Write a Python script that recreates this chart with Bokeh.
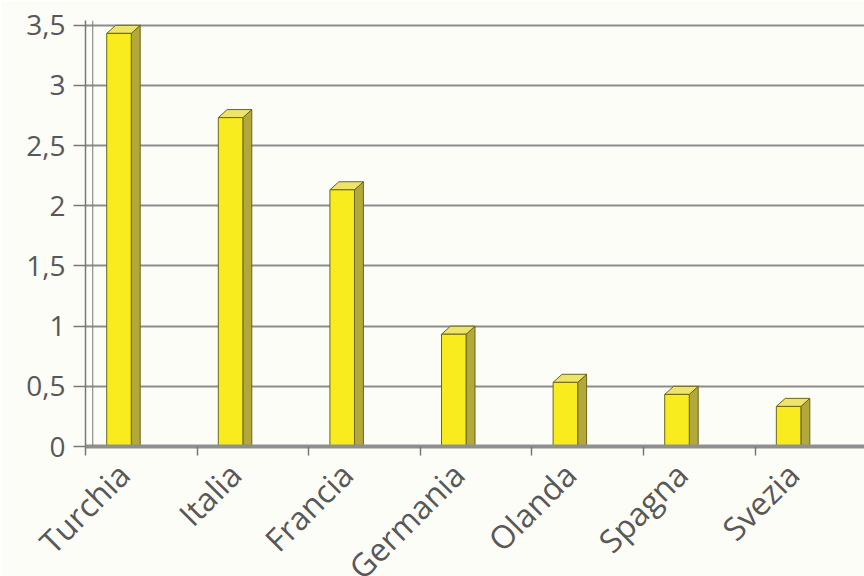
import math
from bokeh.plotting import figure
from bokeh.models import FixedTicker, Range1d, Span
from bokeh.embed import file_html
from bokeh.resources import INLINE

# ---- data ----
categories = ["Turchia", "Italia", "Francia", "Germania", "Olanda", "Spagna", "Svezia"]
values = [3.5, 2.8, 2.2, 1.0, 0.6, 0.5, 0.4]
y_ticks = [0, 0.5, 1, 1.5, 2, 2.5, 3, 3.5]
y_tick_labels = ["0", "0,5", "1", "1,5", "2", "2,5", "3", "3,5"]

# ---- styling constants (3D look) ----
FRONT_L, FRONT_R = 0.19, 0.41   # offset within category slot
DX, DZ = 0.08, 0.067            # depth offsets in data units
LABEL_POS = 0.34                # label anchor within slot
BG = "#fdfdf8"
GRID = "#8c8c8c"
TXT = "#585858"
FONT = "Open Sans"

p = figure(frame_width=779, frame_height=426, output_backend="svg", toolbar_location=None,
           x_range=Range1d(0, 6.98), y_range=Range1d(0, 3.54),
           min_border_left=85, min_border_right=0, min_border_top=20, min_border_bottom=0)
p.background_fill_color = BG
p.border_fill_color = BG
p.outline_line_color = None

idx = list(range(len(categories)))
left = [i + FRONT_L for i in idx]
right = [i + FRONT_R for i in idx]
front_top = [v - DZ for v in values]

side_xs = [[r, r + DX, r + DX, r] for r in right]
side_ys = [[0, 0, v, v - DZ] for v in values]
top_xs = [[l, l + DX, r + DX, r] for l, r in zip(left, right)]
top_ys = [[v - DZ, v, v, v - DZ] for v in values]

# back wall corner line
p.add_layout(Span(location=0.065, dimension="height", line_color="#777777", line_width=1))

p.patches(side_xs, side_ys, fill_color="#b3a83a", line_color="#6a6618", line_width=1)
p.patches(top_xs, top_ys, fill_color="#efe46a", line_color="#6a6618", line_width=1)
p.quad(left=left, right=right, bottom=0, top=front_top,
       fill_color="#f8ec1e", line_color="#6a6618", line_width=1)

# y axis
p.yaxis.ticker = FixedTicker(ticks=y_ticks)
p.yaxis.major_label_overrides = {t: l for t, l in zip(y_ticks, y_tick_labels)}
p.yaxis.major_tick_out = 12
p.yaxis.major_tick_in = 0
p.yaxis.minor_tick_line_color = None
p.yaxis.major_label_standoff = 8
p.yaxis.axis_line_color = "#777777"
p.yaxis.axis_line_width = 1.5
p.yaxis.major_tick_line_color = "#777777"
p.yaxis.major_tick_line_width = 1.5
p.yaxis.major_label_text_font = FONT
p.yaxis.major_label_text_font_size = "28px"
p.yaxis.major_label_text_color = TXT

# x axis: labels near slot centers, tick marks at slot boundaries
centers = [i + LABEL_POS for i in idx]
p.xaxis.ticker = FixedTicker(ticks=centers, minor_ticks=list(range(len(categories) + 1)))
p.xaxis.major_label_overrides = {c: n for c, n in zip(centers, categories)}
p.xaxis.major_tick_out = 0
p.xaxis.major_tick_in = 0
p.xaxis.minor_tick_out = 9
p.xaxis.minor_tick_in = 0
p.xaxis.minor_tick_line_color = "#777777"
p.xaxis.minor_tick_line_width = 1.5
p.xaxis.axis_line_color = "#8f8f8f"
p.xaxis.axis_line_width = 4
p.xaxis.major_label_orientation = math.pi / 4
p.xaxis.major_label_standoff = 13
p.xaxis.major_label_text_font = FONT
p.xaxis.major_label_text_font_size = "32px"
p.xaxis.major_label_text_color = TXT

p.xgrid.grid_line_color = None
p.ygrid.ticker = FixedTicker(ticks=y_ticks)
p.ygrid.grid_line_color = GRID
p.ygrid.grid_line_width = 2

open("out.html", "w").write(file_html(p, INLINE))
